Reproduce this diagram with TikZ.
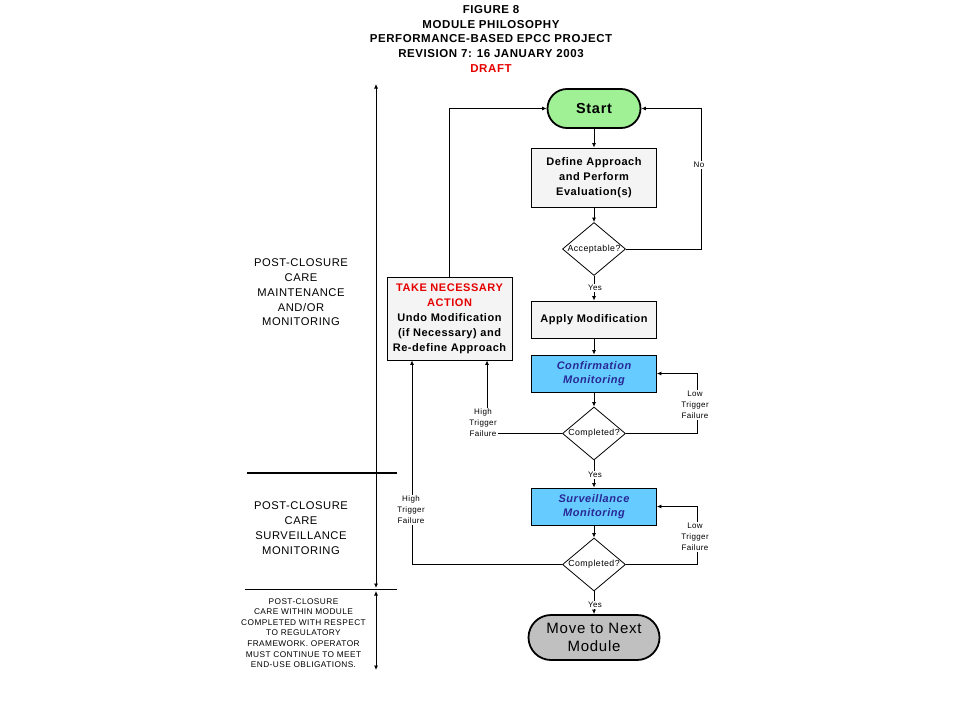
\documentclass[tikz,border=0pt]{standalone}
\usepackage{fontspec}
\setmainfont{Liberation Sans}[LetterSpace=5]
\usetikzlibrary{shapes.geometric,shapes.misc,arrows.meta}
\definecolor{startgreen}{RGB}{160,240,150}
\definecolor{boxgray}{RGB}{244,244,244}
\definecolor{monblue}{RGB}{102,204,255}
\definecolor{montext}{RGB}{40,40,150}
\definecolor{endgray}{RGB}{192,192,192}
\definecolor{draftred}{RGB}{230,0,0}
\begin{document}
\begin{tikzpicture}[x=1pt,y=-1pt,
  tip/.tip={Latex[length=4.5pt,width=4pt]},
  conn/.style={line width=0.8pt},
  arr/.style={conn,-tip},
  dbl/.style={conn,tip-tip},
  box/.style={draw, line width=0.8pt, fill=boxgray, minimum width=125pt, inner sep=0pt, align=center, font=\fontsize{11}{15}\selectfont\bfseries},
  mon/.style={draw, line width=0.8pt, fill=monblue, minimum width=125pt, minimum height=37pt, inner sep=0pt, align=center, text=montext, font=\fontsize{11}{14.5}\selectfont\bfseries\itshape},
  term/.style={rounded rectangle, draw, line width=1.8pt, inner sep=0pt, align=center},
  dec/.style={diamond, aspect=1.25, draw, line width=0.8pt, fill=white, minimum width=63pt, minimum height=53pt, inner sep=0pt, font=\fontsize{8.8}{10}\selectfont},
  lbl/.style={fill=white, inner sep=1pt, align=center, font=\fontsize{8}{11}\selectfont},
  ttl/.style={font=\fontsize{11.5}{12}\selectfont\bfseries, inner sep=0pt},
  side/.style={align=center, inner sep=0pt, font=\fontsize{11.2}{14.8}\selectfont},
  smalltxt/.style={align=center, inner sep=0pt, font=\fontsize{8.3}{10.6}\selectfont}
]
\useasboundingbox (0,0) rectangle (960,720);

% title
\node[ttl] (t1) at (491,10) {FIGURE 8};
\node[ttl] (t2) at (491,24.5) {MODULE PHILOSOPHY};
\node[ttl] (t3) at (491,39) {PERFORMANCE-BASED EPCC PROJECT};
\node[ttl] (t4) at (491,54) {REVISION 7: 16 JANUARY 2003};
\node[ttl, text=draftred] (t5) at (491,69) {DRAFT};

% flow nodes
\node[term, fill=startgreen, minimum width=93pt, minimum height=39pt, font=\fontsize{14.5}{16}\selectfont\bfseries] (start) at (594,108.5) {Start};
\node[box, minimum height=59pt] (define) at (594,177.5) {Define Approach\\and Perform\\Evaluation(s)};
\node[dec] (acc) at (594,249) {Acceptable?};
\node[box, minimum height=37pt] (apply) at (594,319.5) {Apply Modification};
\node[mon] (conf) at (594,373.5) {Confirmation\\Monitoring};
\node[dec] (comp1) at (594,433.5) {Completed?};
\node[mon] (surv) at (594,506.5) {Surveillance\\Monitoring};
\node[dec] (comp2) at (594,564.5) {Completed?};
\node[term, fill=endgray, minimum width=131pt, minimum height=45pt, font=\fontsize{15}{18}\selectfont] (move) at (594,637.5) {Move to Next\\Module};
\node[box, minimum height=83pt] (take) at (449.5,318.5) {\textcolor{draftred}{TAKE NECESSARY}\\\textcolor{draftred}{ACTION}\\Undo Modification\\(if Necessary) and\\Re-define Approach};

% main chain
\draw[arr] (start.south) -- (define.north);
\draw[arr] (define.south) -- (acc.north);
\draw[arr] (acc.south) -- (apply.north);
\draw[arr] (apply.south) -- (conf.north);
\draw[arr] (conf.south) -- (comp1.north);
\draw[arr] (comp1.south) -- (surv.north);
\draw[arr] (surv.south) -- (comp2.north);
\draw[arr] (comp2.south) -- (move.north);

% loops
\coordinate (noX) at (701,0);
\coordinate (lowX) at (697,0);
\coordinate (high1X) at (487,0);
\coordinate (high2X) at (412,0);
\draw[arr] (acc.east) -- (acc.east -| noX) -- (start.east -| noX) -- (start.east);
\draw[arr] (take.north) |- (start.west);
\draw[arr] (comp1.east) -- (comp1.east -| lowX) -- (conf.east -| lowX) -- (conf.east);
\draw[arr] (comp2.east) -- (comp2.east -| lowX) -- (surv.east -| lowX) -- (surv.east);
\draw[arr] (comp1.west) -- (comp1.west -| high1X) -- (take.south -| high1X);
\draw[arr] (comp2.west) -- (comp2.west -| high2X) -- (take.south -| high2X);

% labels
\node[lbl] (no) at (699,165) {No};
\node[lbl] (yes1) at (595,288) {Yes};
\node[lbl] (yes2) at (595,475) {Yes};
\node[lbl] (yes3) at (595,605) {Yes};
\node[lbl] (low1) at (695,405) {Low\\Trigger\\Failure};
\node[lbl] (low2) at (695,537) {Low\\Trigger\\Failure};
\node[lbl] (high1) at (483,423) {High\\Trigger\\Failure};
\node[lbl] (high2) at (411,510) {High\\Trigger\\Failure};

% left phase axis
\coordinate (axTop) at (376,84);
\coordinate (axMidA) at (376,588);
\coordinate (axMidB) at (376,591);
\coordinate (axBot) at (376,670);
\draw[dbl] (axTop) -- (axMidA);
\draw[dbl] (axMidB) -- (axBot);
\coordinate (d1L) at (247,472.5);
\coordinate (d1R) at (397,472.5);
\draw[line width=2pt] (d1L) -- (d1R);
\coordinate (d2L) at (245,589.5);
\coordinate (d2R) at (397,589.5);
\draw[conn] (d2L) -- (d2R);

\node[side] (phase1) at (301,292.5) {POST-CLOSURE\\CARE\\MAINTENANCE\\AND/OR\\MONITORING};
\node[side] (phase2) at (301,528) {POST-CLOSURE\\CARE\\SURVEILLANCE\\MONITORING};
\node[smalltxt] (phase3) at (303.5,633) {POST-CLOSURE\\CARE WITHIN MODULE\\COMPLETED WITH RESPECT\\TO REGULATORY\\FRAMEWORK. OPERATOR\\MUST CONTINUE TO MEET\\END-USE OBLIGATIONS.};
\end{tikzpicture}
\end{document}
